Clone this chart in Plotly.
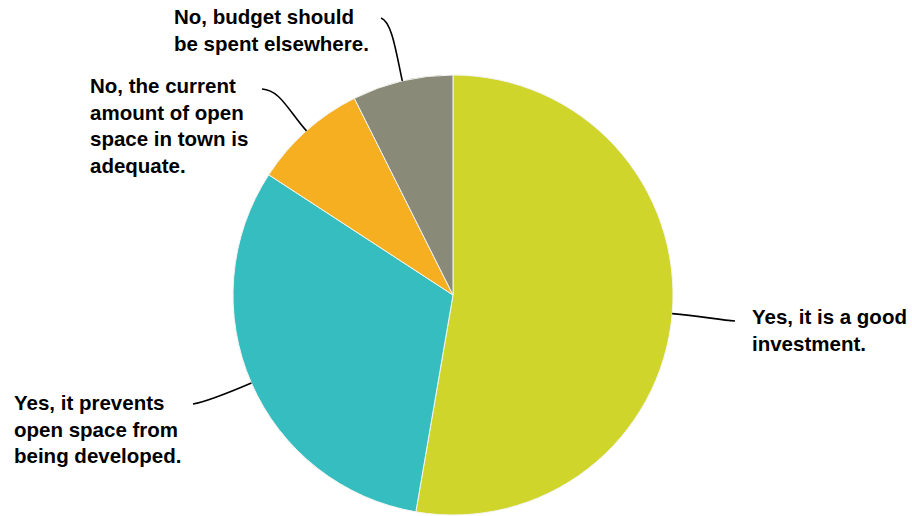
import math
import plotly.graph_objects as go

# Data
categories = [
    "Yes, it is a good investment.",
    "Yes, it prevents open space from being developed.",
    "No, the current amount of open space in town is adequate.",
    "No, budget should be spent elsewhere.",
]
values = [52.7, 31.5, 8.4, 7.4]
label_lines = [
    ["Yes, it is a good", "investment."],
    ["Yes, it prevents", "open space from", "being developed."],
    ["No, the current", "amount of open", "space in town is", "adequate."],
    ["No, budget should", "be spent elsewhere."],
]
colors = ["#CFD52A", "#35BDBF", "#F5AF20", "#8A8A79"]

W, H = 912, 516
cx, cy, R = 453, 295, 220

# label placement (pixels): left x, block centre y, leader end point, curve controls
label_pos = [(750, 330), (12, 429), (88, 125), (172, 30)]
leader_end = [(735, 321), (193, 404), (262, 89), (381, 18)]
ctrl = [
    ((700, 316), (720, 320)),
    ((228, 393), (205, 402)),
    ((288, 110), (280, 90)),
    ((396, 52), (392, 22)),
]

fig = go.Figure()
fig.add_trace(go.Pie(
    labels=categories,
    values=values,
    sort=False,
    direction="clockwise",
    rotation=0,
    textinfo="none",
    hoverinfo="label+percent",
    marker=dict(colors=colors, line=dict(color="#F4F4F0", width=1)),
    domain=dict(x=[(cx - R) / W, (cx + R) / W], y=[1 - (cy + R) / H, 1 - (cy - R) / H]),
    showlegend=False,
))

total = sum(values)
cum = 0.0
shapes = []
annotations = []
for i, v in enumerate(values):
    mid = (cum + v / 2) / total * 2 * math.pi
    cum += v
    sx = cx + R * math.sin(mid)
    sy = cy - R * math.cos(mid)
    ex, ey = leader_end[i]
    (c1x, c1y), (c2x, c2y) = ctrl[i]
    path = f"M {sx:.1f},{sy:.1f} C {c1x},{c1y} {c2x},{c2y} {ex},{ey}"
    shapes.append(dict(type="path", path=path, xref="x", yref="y",
                       line=dict(color="#000000", width=1.6)))
    lx, ly = label_pos[i]
    annotations.append(dict(
        x=lx, y=ly, xref="x", yref="y", xanchor="left", yanchor="middle",
        text="<br>".join("<b>" + s + "</b>" for s in label_lines[i]),
        showarrow=False, align="left",
        font=dict(family="Liberation Sans, Arial, sans-serif", size=20.5, color="#000000"),
    ))

fig.update_layout(
    width=W, height=H,
    margin=dict(l=0, r=0, t=0, b=0),
    paper_bgcolor="white", plot_bgcolor="rgba(0,0,0,0)",
    xaxis=dict(range=[0, W], visible=False, fixedrange=True),
    yaxis=dict(range=[H, 0], visible=False, fixedrange=True),
    shapes=shapes,
    annotations=annotations,
)
fig.write_html("out.html", config={"displayModeBar": False},
               post_script="document.body.style.margin='0';")
